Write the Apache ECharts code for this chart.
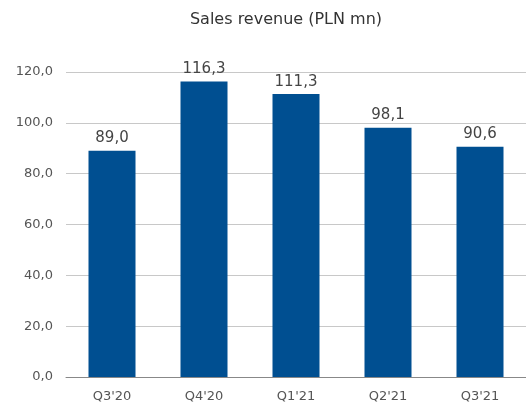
<!DOCTYPE html>
<html>
<head>
<meta charset="utf-8">
<script src="https://cdn.jsdelivr.net/npm/echarts@6/dist/echarts.min.js"></script>
<style>
  html, body { margin: 0; padding: 0; background: #fff; }
  #chart { width: 526px; height: 411px; }
</style>
</head>
<body>
<div id="chart"></div>
<script>
// dane
var quarters = ["Q3'20", "Q4'20", "Q1'21", "Q2'21", "Q3'21"];
var revenue = [89.0, 116.3, 111.3, 98.1, 90.6];

var FONT = '"DejaVu Sans", Verdana, sans-serif';

function fmt(v) {
	return v.toFixed(1).replace('.', ',');
}

var chart = echarts.init(document.getElementById('chart'));
var option = {
	animation: false,
	title: {
		text: 'Sales revenue (PLN mn)',
		left: 281,
		top: 7,
		textAlign: 'center',
		textStyle: { fontSize: 16, fontWeight: 'normal', color: '#333', fontFamily: FONT }
	},
	grid: { left: 66, right: 0, top: 72, bottom: 34 },
	xAxis: {
		type: 'category',
		data: quarters,
		axisTick: { show: false },
		axisLine: { lineStyle: { color: '#888', width: 1 } },
		axisLabel: { color: '#555', fontSize: 13, margin: 13, fontFamily: FONT }
	},
	yAxis: {
		type: 'value',
		min: 0,
		max: 120,
		interval: 20,
		axisLabel: { color: '#555', fontSize: 13, margin: 13, fontFamily: FONT, formatter: fmt },
		splitLine: { lineStyle: { color: '#c8c8c8', width: 1 } }
	},
	series: [{
		type: 'bar',
		data: revenue,
		barWidth: 47,
		itemStyle: { color: '#004f91' },
		label: {
			show: true,
			position: 'top',
			distance: 5,
			color: '#444',
			fontSize: 15,
			fontFamily: FONT,
			formatter: function(p) { return fmt(p.value); }
		}
	}]
};
chart.setOption(option);
</script>
</body>
</html>
